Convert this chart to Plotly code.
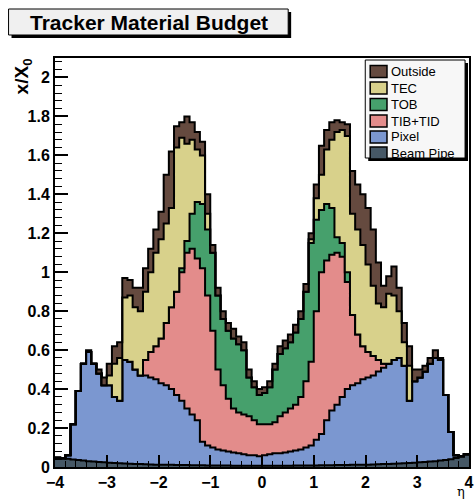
import numpy as np
import plotly.graph_objects as go

# eta binning: 80 bins of width 0.1 between -4 and 4
ETA_MIN, ETA_MAX, N_BINS = -4.0, 4.0, 80
eta_edges = np.round(np.linspace(ETA_MIN, ETA_MAX, N_BINS + 1), 3)

# material budget x/X0 per detector, one value per eta bin
beam_pipe = [
    .048, .045, .042, .039, .036, .033, .030, .028, .026, .024,
    .022, .020, .019, .018, .017, .016, .015, .014, .013, .012,
    .012, .011, .011, .010, .010, .010, .009, .009, .009, .008,
    .008, .008, .008, .008, .007, .007, .007, .007, .007, .007,
    .007, .007, .007, .007, .007, .007, .008, .008, .008, .008,
    .008, .009, .009, .009, .010, .010, .010, .011, .011, .012,
    .012, .013, .014, .015, .016, .017, .018, .019, .020, .022,
    .024, .026, .028, .030, .033, .036, .040, .046, .055, .065,
]
pixel = [
    0, 0, .018, .181, .354, .497, .560, .502, .454, .396,
    .398, .340, .321, .532, .523, .484, .455, .456, .447, .438,
    .418, .409, .389, .360, .330, .290, .261, .231, .121, .102,
    .092, .082, .077, .072, .068, .063, .058, .053, .053, .048,
    .053, .058, .063, .063, .068, .073, .077, .082, .092, .102,
    .132, .161, .231, .281, .310, .350, .390, .409, .419, .438,
    .448, .457, .476, .495, .514, .533, .542, .501, .320, .418,
    .436, .464, .502, .530, .517, .334, .140, .014, 0, 0,
]
tib_tid = [
    0, 0, 0, 0, 0, 0, 0, 0, 0, 0,
    0, 0, 0, 0, 0, 0, 0, .08, .13, .17,
    .23, .32, .42, .53, .66, .80, .85, .83, .89, .77,
    .60, .41, .335, .27, .225, .21, .205, .20, .18, .165,
    .16, .155, .16, .19, .205, .22, .235, .27, .34, .43,
    .66, .83, .82, .80, .78, .72, .55, .36, .25, .17,
    .13, .10, .06, .02, 0, 0, 0, 0, 0, 0,
    0, 0, 0, 0, 0, 0, 0, 0, 0, 0,
]
tob = [
    0, 0, 0, 0, 0, 0, 0, 0, 0, 0,
    0, 0, 0, 0, 0, 0, 0, 0, 0, 0,
    0, 0, 0, 0, .02, .06, .18, .29, .33, .34,
    .40, .38, .34, .35, .36, .35, .33, .20, .17, .15,
    .16, .19, .27, .32, .33, .34, .37, .40, .46, .61,
    .47, .32, .29, .24, .08, .07, .05, 0, 0, 0,
    0, 0, 0, 0, 0, 0, 0, 0, 0, 0,
    0, 0, 0, 0, 0, 0, 0, 0, 0, 0,
]
tec = [
    0, 0, 0, 0, 0, 0, 0, 0, 0, 0,
    .05, .17, .22, .32, .34, .32, .33, .35, .41, .48,
    .51, .51, .51, .74, .67, .50, .38, .27, .25, .08,
    0, 0, 0, 0, 0, 0, 0, 0, 0, 0,
    0, 0, 0, 0, 0, 0, 0, 0, 0, .02,
    .11, .18, .28, .35, .54, .58, .70, .52, .54, .52,
    .45, .36, .29, .29, .36, .33, .24, .12, .18, 0,
    0, 0, 0, 0, 0, 0, 0, 0, 0, 0,
]
outside = [
    0, 0, 0, 0, 0, 0, .01, 0, .02, .04,
    .06, .09, .08, .10, .08, .10, .12, .12, .12, .12,
    .14, .25, .29, .11, .08, .14, .09, .09, .07, .10,
    .04, .04, .04, .04, .05, .04, .04, .04, .03, .03,
    .03, .03, .03, .04, .04, .04, .04, .04, .04, .03,
    .07, .15, .10, .09, .06, .04, .06, .22, .23, .26,
    .29, .29, .21, .11, .09, .15, .12, .10, .10, .06,
    .04, .03, .03, .04, .01, 0, 0, 0, 0, 0,
]

# stacking order from the beam line outwards
layers = [
    ("Beam Pipe", beam_pipe, "#465866"),
    ("Pixel", pixel, "#7b97d0"),
    ("TIB+TID", tib_tid, "#e38c8b"),
    ("TOB", tob, "#46a06c"),
    ("TEC", tec, "#d8d18b"),
    ("Outside", outside, "#654a3f"),
]

W, H = 474, 501
L, R, T, B = 55, 0, 58, 34
PW, PH = W - L - R, H - T - B


def px_x(px):
    return (px - L) / PW


def px_y(py):
    return (H - B - py) / PH


fig = go.Figure()
for name, vals, color in layers:
    fig.add_trace(go.Scatter(
        x=eta_edges, y=list(vals) + [vals[-1]],
        stackgroup="budget", mode="lines", name=name,
        line=dict(shape="hv", color="black", width=2),
        fillcolor=color, showlegend=False, hoverinfo="skip",
    ))

shapes = []
annotations = []


def label(text, x, y, size, family="Liberation Sans", xanchor="center", angle=0):
    annotations.append(dict(text=text, xref="paper", yref="paper",
                            x=px_x(x), y=px_y(y), xanchor=xanchor, yanchor="middle",
                            textangle=angle, showarrow=False,
                            font=dict(family=family, size=size, color="black")))


# title box with drop shadow
shapes.append(dict(type="rect", xref="paper", yref="paper",
                   x0=px_x(11), x1=px_x(294), y0=px_y(12), y1=px_y(38),
                   fillcolor="black", line=dict(width=0), layer="above"))
shapes.append(dict(type="rect", xref="paper", yref="paper",
                   x0=px_x(8), x1=px_x(291), y0=px_y(9), y1=px_y(35),
                   fillcolor="#f0f0f0", line=dict(color="black", width=1), layer="above"))
label("<b>Tracker Material Budget</b>", 150, 22.5, 21)

# legend box with drop shadow
shapes.append(dict(type="rect", xref="paper", yref="paper",
                   x0=px_x(372), x1=px_x(473), y0=px_y(63), y1=px_y(161),
                   fillcolor="black", line=dict(width=0), layer="above"))
shapes.append(dict(type="rect", xref="paper", yref="paper",
                   x0=px_x(369), x1=px_x(470), y0=px_y(60), y1=px_y(158),
                   fillcolor="#f7f7f7", line=dict(color="black", width=1), layer="above"))
row_y = [71.5, 88, 104.5, 121, 137, 153]
for (name, _, color), yy in zip(reversed(layers), row_y):
    shapes.append(dict(type="rect", xref="paper", yref="paper",
                       x0=px_x(374), x1=px_x(391), y0=px_y(yy - 6), y1=px_y(yy + 6),
                       fillcolor=color, line=dict(color="black", width=1.5), layer="above"))
    label(name, 393, yy, 13, xanchor="left")

# axis titles
label("<b>x/X<sub>0</sub></b>", 23, 76, 19, angle=-90)
label("η", 466, 492, 13, family="DejaVu Serif")

axis_font = dict(family="Liberation Sans", size=16, color="black", weight="bold")

fig.update_layout(
    width=W, height=H,
    margin=dict(l=L, r=R, t=T, b=B, pad=0),
    paper_bgcolor="white", plot_bgcolor="white",
    showlegend=False,
    shapes=shapes, annotations=annotations,
    xaxis=dict(range=[ETA_MIN, ETA_MAX], tick0=-4, dtick=1,
               ticks="inside", ticklen=12, tickwidth=1.5, tickcolor="black",
               minor=dict(ticks="inside", dtick=0.2, ticklen=6, tickwidth=1.2, tickcolor="black"),
               showline=True, linecolor="black", linewidth=2, mirror=True,
               showgrid=False, zeroline=False, tickfont=axis_font,
               ticklabeloverflow="allow"),
    yaxis=dict(range=[0, 2.1], tick0=0, dtick=0.2,
               ticks="inside", ticklen=13, tickwidth=1.5, tickcolor="black",
               minor=dict(ticks="inside", dtick=0.04, ticklen=7, tickwidth=1.2, tickcolor="black"),
               showline=True, linecolor="black", linewidth=2, mirror=True,
               showgrid=False, zeroline=False, tickfont=axis_font,
               ticklabeloverflow="allow"),
)

fig.write_html("out.html")
